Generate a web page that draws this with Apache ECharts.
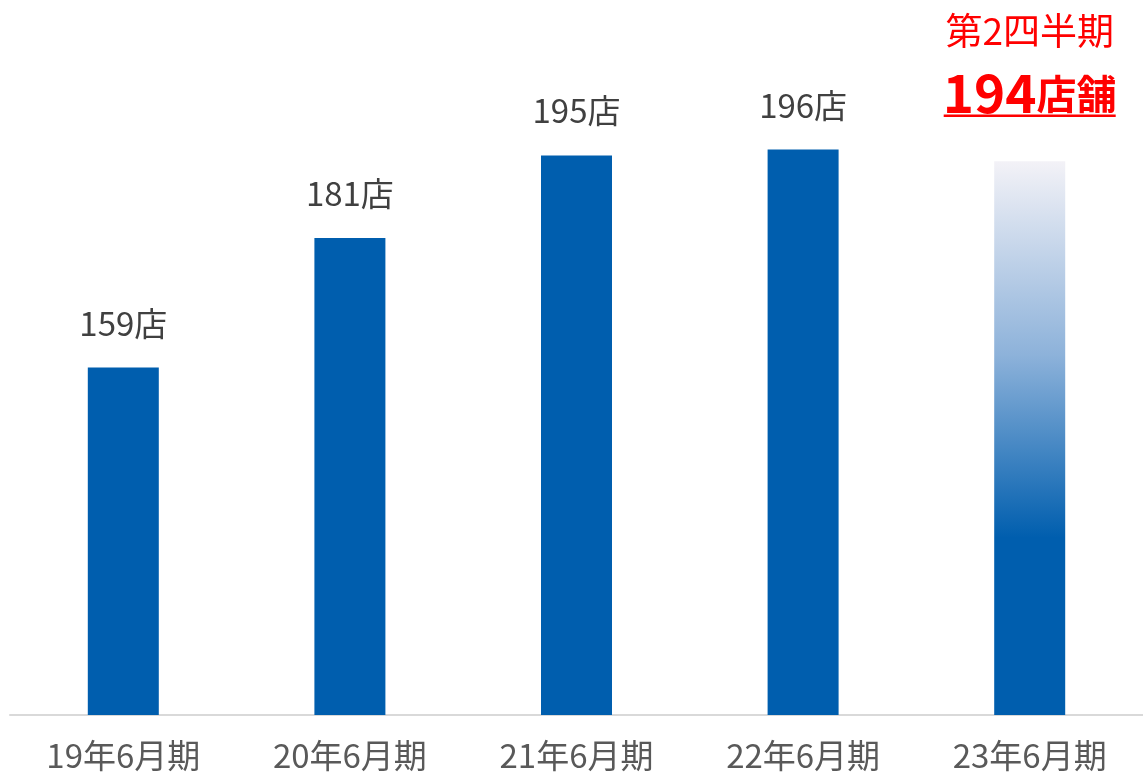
<!DOCTYPE html>
<html>
<head>
<meta charset="utf-8">
<script src="https://cdn.jsdelivr.net/npm/echarts@6/dist/echarts.min.js"></script>
<style>
  html, body { margin: 0; padding: 0; background: #fff; }
  #chart { width: 1143px; height: 773px; }
</style>
</head>
<body>
<div id="chart"></div>
<script>
// Store counts at the end of each June fiscal period
const categories = ['19年6月期', '20年6月期', '21年6月期', '22年6月期', '23年6月期'];
const storeCounts = [159, 181, 195, 196, 194];
const valueSuffix = '店';
const quarterNote = '第2四半期';
const latestUnit = '店舗';

const FONT = '"Noto Sans CJK JP", "Noto Sans", sans-serif';
const BLUE = '#005EAE';
const RED = '#FF0000';

const lastIdx = storeCounts.length - 1;

const barData = storeCounts.map((v, i) => {
  if (i !== lastIdx) return { value: v };
  // Latest period: fading bar with the highlighted quarter callout above it
  return {
    value: v,
    itemStyle: {
      color: new echarts.graphic.LinearGradient(0, 0, 0, 1, [
        { offset: 0, color: '#F3F2F7' },
        { offset: 0.35, color: '#8DB2DA' },
        { offset: 0.68, color: BLUE },
        { offset: 1, color: BLUE }
      ])
    },
    label: {
      distance: 44,
      formatter: () => '{t|' + quarterNote + '}\n{g|}\n{n|' + v + '}{s|' + latestUnit + '}\n{u|}',
      rich: {
        t: { fontFamily: FONT, fontSize: 37, color: RED, lineHeight: 44 },
        g: { height: 19, lineHeight: 19 },
        n: { fontFamily: FONT, fontSize: 53, fontWeight: 'bold', color: RED, lineHeight: 42 },
        s: { fontFamily: FONT, fontSize: 40, fontWeight: 'bold', color: RED, lineHeight: 42 },
        u: { width: 172, height: 2.5, lineHeight: 3, backgroundColor: RED }
      }
    }
  };
});

const chart = echarts.init(document.getElementById('chart'), null, { renderer: 'canvas' });
chart.setOption({
  animation: false,
  backgroundColor: '#ffffff',
  grid: { left: 10, top: 126, width: 1136, height: 590 },
  xAxis: {
    type: 'category',
    data: categories,
    axisLine: { lineStyle: { color: '#D9D9D9', width: 2 } },
    axisTick: { show: false },
    axisLabel: { fontFamily: FONT, fontSize: 33, color: '#595959', margin: 22, lineHeight: 36 }
  },
  yAxis: {
    type: 'value',
    min: 100,
    max: 200,
    show: false,
    splitLine: { show: false }
  },
  series: [{
    type: 'bar',
    data: barData,
    barWidth: 71,
    itemStyle: { color: BLUE },
    label: {
      show: true,
      position: 'top',
      distance: 28,
      fontFamily: FONT,
      fontSize: 33,
      lineHeight: 33,
      color: '#404040',
      formatter: p => p.value + valueSuffix
    }
  }]
});
</script>
</body>
</html>
